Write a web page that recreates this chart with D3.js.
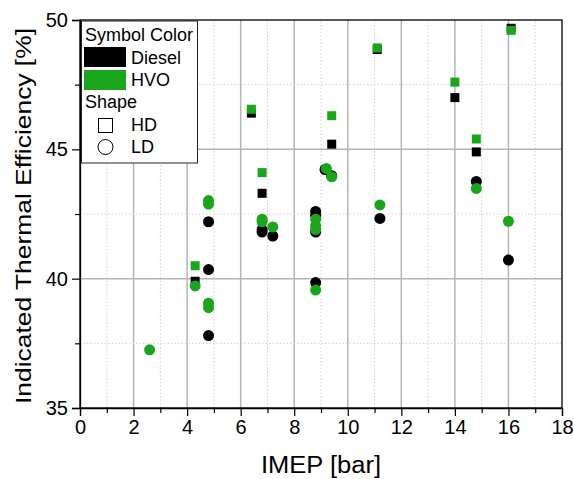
<!DOCTYPE html>
<html>
<head>
<meta charset="utf-8">
<script src="https://cdn.jsdelivr.net/npm/d3@7/dist/d3.min.js"></script>
<style>
  html, body { margin: 0; padding: 0; background: #fff; }
  svg { display: block; font-family: "Liberation Sans", Arial, sans-serif; }
</style>
</head>
<body>
<svg id="chart" width="574" height="479"></svg>
<script>
// IMEP [bar] and indicated thermal efficiency [%] per fuel and engine type
const dieselHdX = [4.3, 6.4, 6.8, 9.4, 11.1, 14.0, 14.8, 16.1];
const dieselHdY = [39.9, 46.4, 43.3, 45.2, 48.86, 47.0, 44.9, 49.68];
const hvoHdX = [4.3, 6.4, 6.8, 9.4, 11.1, 14.0, 14.8, 16.1];
const hvoHdY = [40.5, 46.55, 44.1, 46.3, 48.92, 47.6, 45.4, 49.6];

const dieselLdX = [4.8, 4.8, 4.8, 6.8, 6.8, 7.2, 8.8, 8.8, 8.8, 8.8, 9.15, 9.4, 11.2, 14.8, 16.0];
const dieselLdY = [42.2, 40.35, 37.8, 41.9, 41.8, 41.65, 42.6, 42.45, 41.8, 39.85, 44.22, 43.98, 42.33, 43.76, 40.72];
const hvoLdX = [2.6, 4.3, 4.8, 4.8, 4.8, 4.8, 6.8, 6.8, 7.2, 8.8, 8.8, 8.8, 8.8, 9.2, 9.4, 11.2, 14.8, 16.0];
const hvoLdY = [37.25, 39.72, 43.02, 42.88, 39.05, 38.88, 42.3, 42.2, 42.0, 42.3, 42.05, 41.9, 39.56, 44.26, 43.94, 42.85, 43.49, 42.22];

const xTicks = [0, 2, 4, 6, 8, 10, 12, 14, 16, 18];
const xMinorTicks = [1, 3, 5, 7, 9, 11, 13, 15, 17];
const yTicks = [35, 40, 45, 50];
const yMinorTicks = [37.5, 42.5, 47.5];

const fuelNames = ["Diesel", "HVO"];
const fuelColors = ["#000000", "#1aa61a"];
const shapeNames = ["HD", "LD"];

const svg = d3.select("#chart");
const W = 574, H = 479;
const margin = { top: 20, right: 12, bottom: 71, left: 80 };
const pw = W - margin.left - margin.right;
const ph = H - margin.top - margin.bottom;

const x = d3.scaleLinear().domain([0, 18]).range([margin.left, margin.left + pw]);
const y = d3.scaleLinear().domain([35, 50]).range([margin.top + ph, margin.top]);

// grid
const grid = svg.append("g");
grid.selectAll(".vmaj").data(xTicks.slice(1, -1)).join("line")
  .attr("x1", d => x(d)).attr("x2", d => x(d))
  .attr("y1", y(35)).attr("y2", y(50))
  .attr("stroke", "#b4b4b4").attr("stroke-width", 1.5);
grid.selectAll(".vmin").data(xMinorTicks).join("line")
  .attr("x1", d => x(d)).attr("x2", d => x(d))
  .attr("y1", y(35)).attr("y2", y(50))
  .attr("stroke", "#d2d2d2").attr("stroke-width", 1).attr("stroke-dasharray", "1.5,2");
grid.selectAll(".hmaj").data(yTicks.slice(1, -1)).join("line")
  .attr("x1", x(0)).attr("x2", x(18))
  .attr("y1", d => y(d)).attr("y2", d => y(d))
  .attr("stroke", "#b4b4b4").attr("stroke-width", 1.5);
grid.selectAll(".hmin").data(yMinorTicks).join("line")
  .attr("x1", x(0)).attr("x2", x(18))
  .attr("y1", d => y(d)).attr("y2", d => y(d))
  .attr("stroke", "#d2d2d2").attr("stroke-width", 1).attr("stroke-dasharray", "1.5,2");

// frame
svg.append("rect")
  .attr("x", x(0)).attr("y", y(50))
  .attr("width", x(18) - x(0)).attr("height", y(35) - y(50))
  .attr("fill", "none").attr("stroke", "#000").attr("stroke-width", 1.3);

// axes
const xAxis = svg.append("g").attr("transform", `translate(0,${y(35)})`)
  .call(d3.axisBottom(x).tickValues(xTicks).tickSize(8).tickPadding(4).tickFormat(d3.format("d")));
svg.append("g").attr("transform", `translate(0,${y(35)})`)
  .call(d3.axisBottom(x).tickValues(xMinorTicks).tickSize(5).tickFormat(""))
  .call(g => g.select(".domain").remove());
const yAxis = svg.append("g").attr("transform", `translate(${x(0)},0)`)
  .call(d3.axisLeft(y).tickValues(yTicks).tickSize(8).tickPadding(4).tickFormat(d3.format("d")));
svg.append("g").attr("transform", `translate(${x(0)},0)`)
  .call(d3.axisLeft(y).tickValues(yMinorTicks).tickSize(5).tickFormat(""))
  .call(g => g.select(".domain").remove());

[xAxis, yAxis].forEach(a => {
  a.selectAll("text").attr("font-size", 20).attr("fill", "#000")
    .attr("font-family", "Liberation Sans, Arial, sans-serif");
  a.selectAll("line").attr("stroke", "#000").attr("stroke-width", 1.2);
  a.select(".domain").attr("stroke", "#000").attr("stroke-width", 1.3);
});
svg.selectAll("g.tick line").attr("stroke", "#000").attr("stroke-width", 1.2);

// axis titles
svg.append("text")
  .attr("x", (x(0) + x(18)) / 2).attr("y", 473)
  .attr("text-anchor", "middle").attr("font-size", 23)
  .attr("textLength", 120).attr("lengthAdjust", "spacingAndGlyphs")
  .text("IMEP [bar]");
svg.append("text")
  .attr("transform", `translate(31,${(y(35) + y(50)) / 2 + 2}) rotate(-90)`)
  .attr("text-anchor", "middle").attr("font-size", 22)
  .attr("textLength", 376).attr("lengthAdjust", "spacingAndGlyphs")
  .text("Indicated Thermal Efficiency [%]");

// markers
const sq = 9, r = 5.5;
function squares(xs, ys, color) {
  svg.append("g").selectAll("rect").data(xs.map((d, i) => [d, ys[i]])).join("rect")
    .attr("x", d => x(d[0]) - sq / 2).attr("y", d => y(d[1]) - sq / 2)
    .attr("width", sq).attr("height", sq).attr("fill", color);
}
function circles(xs, ys, color) {
  svg.append("g").selectAll("circle").data(xs.map((d, i) => [d, ys[i]])).join("circle")
    .attr("cx", d => x(d[0])).attr("cy", d => y(d[1])).attr("r", r).attr("fill", color);
}
squares(dieselHdX, dieselHdY, fuelColors[0]);
circles(dieselLdX, dieselLdY, fuelColors[0]);
squares(hvoHdX, hvoHdY, fuelColors[1]);
circles(hvoLdX, hvoLdY, fuelColors[1]);

// legend
const lg = svg.append("g");
lg.append("rect").attr("x", 81.5).attr("y", 21).attr("width", 116).attr("height", 142)
  .attr("fill", "#fff").attr("stroke", "#222").attr("stroke-width", 1);
const lf = 18;
lg.append("text").attr("x", 85).attr("y", 41).attr("font-size", lf).text("Symbol Color");
fuelNames.forEach((name, i) => {
  lg.append("rect").attr("x", 84).attr("y", 47 + i * 23).attr("width", 42).attr("height", 20)
    .attr("fill", fuelColors[i]);
  lg.append("text").attr("x", 131).attr("y", 64 + i * 22).attr("font-size", lf).text(name);
});
lg.append("text").attr("x", 85).attr("y", 108).attr("font-size", lf).text("Shape");
lg.append("rect").attr("x", 98.5).attr("y", 118.5).attr("width", 14).attr("height", 14)
  .attr("fill", "#fff").attr("stroke", "#000").attr("stroke-width", 1);
lg.append("text").attr("x", 131).attr("y", 131).attr("font-size", lf).text(shapeNames[0]);
lg.append("circle").attr("cx", 105.5).attr("cy", 147).attr("r", 7.5)
  .attr("fill", "#fff").attr("stroke", "#000").attr("stroke-width", 1);
lg.append("text").attr("x", 131).attr("y", 153).attr("font-size", lf).text(shapeNames[1]);
</script>
</body>
</html>
